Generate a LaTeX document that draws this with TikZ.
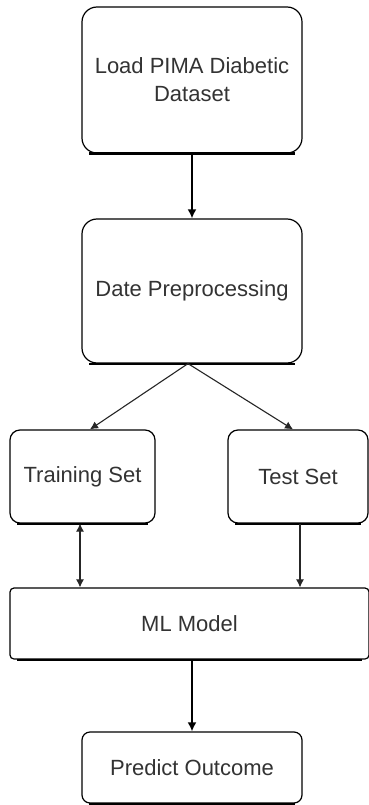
\documentclass[tikz,border=0pt]{standalone}
\usepackage{fontspec}
\setmainfont{Liberation Sans}
\usetikzlibrary{arrows.meta}
\definecolor{txt}{HTML}{333333}
\tikzset{
  box/.style={draw=black, line width=1.2pt, fill=white, inner sep=0pt, text=txt, font=\fontsize{22}{28}\selectfont, align=center},
  thick arrow/.style={line width=2pt, -{Latex[length=9pt,width=9pt]}},
  thin arrow/.style={line width=1.1pt, draw=black!85, -{Latex[length=8pt,width=8pt]}},
}
\begin{document}
\begin{tikzpicture}[x=1pt,y=-1pt]
\useasboundingbox (0,0) rectangle (368,805);
\fill[white] (0,0) rectangle (368,805);
% boxes
\node[box, rounded corners=15pt, minimum width=220pt, minimum height=146pt] (load) at (192,80) {Load PIMA Diabetic\\Dataset};
\node[box, rounded corners=15pt, minimum width=220pt, minimum height=144pt] (pre) at (192,291) {Date Preprocessing};
\node[box, rounded corners=10pt, minimum width=145pt, minimum height=93pt] (train) at (82.5,476.5) {Training Set};
\node[box, rounded corners=10pt, minimum width=140pt, minimum height=93pt] (test) at (298,476.5) {Test Set};
\node[box, rounded corners=4pt, minimum width=359pt, minimum height=71pt] (ml) at (189.5,623.5) {ML Model};
\node[box, rounded corners=8pt, minimum width=220pt, minimum height=71pt] (pred) at (192,767.5) {Predict Outcome};
% thicker bottom edges
\foreach \n in {load,pre,train,test,ml,pred}{
  \draw[line width=2.2pt] ([xshift=8pt]\n.south west) -- ([xshift=-8pt]\n.south east);
}
% helper columns
\coordinate (c188) at (188,0);
\coordinate (c90) at (90,0);
\coordinate (c293) at (293,0);
\coordinate (c80) at (80,0);
\coordinate (c300) at (300,0);
% connectors
\draw[thick arrow] (load.south) -- (pre.north);
\coordinate (split) at (c188 |- pre.south);
\draw[thin arrow] (split) -- (c90 |- train.north);
\draw[thin arrow] (split) -- (c293 |- test.north);
\draw[thin arrow, {Latex[length=8pt,width=8pt]}-{Latex[length=8pt,width=8pt]}] (c80 |- train.south) -- (c80 |- ml.north);
\draw[thin arrow] (c300 |- test.south) -- (c300 |- ml.north);
\draw[thick arrow] (pred.north |- ml.south) -- (pred.north);
\end{tikzpicture}
\end{document}
